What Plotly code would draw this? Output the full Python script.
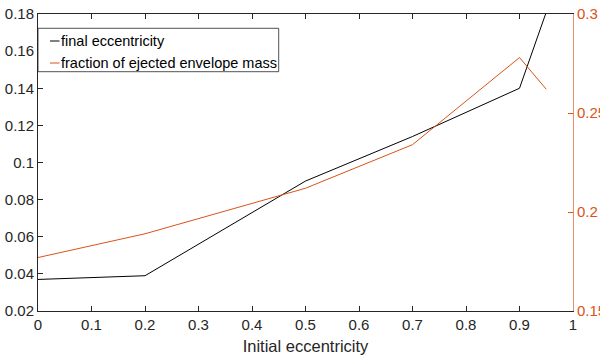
import plotly.graph_objects as go

# Simulation results versus initial orbital eccentricity
initial_ecc = [0, 0.2, 0.5, 0.7, 0.9, 0.95]
final_ecc = [0.037, 0.039, 0.09, 0.114, 0.14, 0.181]
ejected_fraction = [0.177, 0.189, 0.212, 0.234, 0.278, 0.262]

x_ticks = [0, 0.1, 0.2, 0.3, 0.4, 0.5, 0.6, 0.7, 0.8, 0.9, 1]
x_labels = ["0", "0.1", "0.2", "0.3", "0.4", "0.5", "0.6", "0.7", "0.8", "0.9", "1"]
left_ticks = [0.02, 0.04, 0.06, 0.08, 0.1, 0.12, 0.14, 0.16, 0.18]
left_labels = ["0.02", "0.04", "0.06", "0.08", "0.1", "0.12", "0.14", "0.16", "0.18"]
right_ticks = [0.15, 0.2, 0.25, 0.3]
right_labels = ["0.15", "0.2", "0.25", "0.3"]

series_names = ["final eccentricity", "fraction of ejected envelope mass"]

AX = "#262626"
ORANGE = "#D95319"
FONT = "Liberation Sans, Arial, Helvetica, sans-serif"
TICK_SIZE = 15

fig = go.Figure()
fig.add_trace(go.Scatter(x=initial_ecc, y=final_ecc, mode="lines",
                         line=dict(color="#000000", width=1),
                         name=series_names[0], showlegend=False))
fig.add_trace(go.Scatter(x=initial_ecc, y=ejected_fraction, mode="lines",
                         line=dict(color=ORANGE, width=1),
                         name=series_names[1], yaxis="y2", showlegend=False))

W, H = 600, 363
L, R, T, B = 38, 27, 14, 52
pw, ph = W - L - R, H - T - B


def px(xp):
    return (xp - L) / pw


def py(yp):
    return (H - B - yp) / ph


# Boxed legend in the upper-left corner with short line samples
shapes = [
    dict(type="rect", xref="paper", yref="paper",
         x0=px(38), x1=px(278.7), y0=py(71.7), y1=py(28.3),
         line=dict(color=AX, width=0.8), fillcolor="white", layer="above"),
]
annotations = []
legend_rows = [(41, "#000000"), (63, ORANGE)]
for (row_y, color), name in zip(legend_rows, series_names):
    shapes.append(dict(type="line", xref="paper", yref="paper",
                       x0=px(50), x1=px(59.5), y0=py(row_y), y1=py(row_y),
                       line=dict(color=color, width=1), layer="above"))
    annotations.append(dict(xref="paper", yref="paper", x=px(59), y=py(row_y),
                            text=name, showarrow=False, xanchor="left",
                            yanchor="middle",
                            font=dict(family=FONT, size=14.5, color="#000000")))

fig.update_layout(
    width=W, height=H,
    margin=dict(l=L, r=R, t=T, b=B, pad=0, autoexpand=False),
    paper_bgcolor="white", plot_bgcolor="white",
    font=dict(family=FONT, size=TICK_SIZE, color=AX),
    showlegend=False,
    shapes=shapes,
    annotations=annotations,
    xaxis=dict(range=[0, 1], tickvals=x_ticks, ticktext=x_labels,
               automargin=False,
               showgrid=False, zeroline=False,
               showline=True, linecolor=AX, linewidth=1, mirror="ticks",
               ticks="inside", ticklen=5, tickwidth=1, tickcolor=AX,
               tickfont=dict(family=FONT, size=TICK_SIZE, color=AX),
               title=dict(text="Initial eccentricity", standoff=8,
                          font=dict(family=FONT, size=16.5, color=AX))),
    yaxis=dict(range=[0.02, 0.18], tickvals=left_ticks, ticktext=left_labels,
               automargin=False,
               showgrid=False, zeroline=False,
               showline=True, linecolor=AX, linewidth=1,
               ticks="inside", ticklen=5, tickwidth=1, tickcolor=AX,
               tickfont=dict(family=FONT, size=TICK_SIZE, color=AX)),
    yaxis2=dict(range=[0.15, 0.3], tickvals=right_ticks, ticktext=right_labels,
                overlaying="y", side="right", automargin=False,
                showgrid=False, zeroline=False,
                showline=True, linecolor="#E8916A", linewidth=1,
                ticks="inside", ticklen=5, tickwidth=1, tickcolor=ORANGE,
                tickfont=dict(family=FONT, size=TICK_SIZE, color=ORANGE)),
)

fig.write_html("out.html")
